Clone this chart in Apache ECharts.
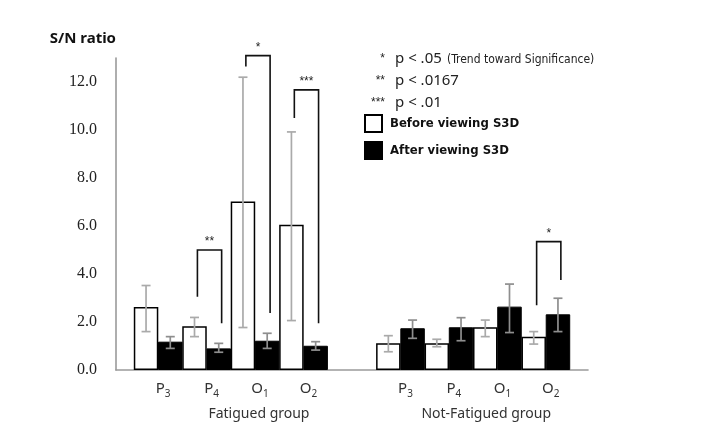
<!DOCTYPE html>
<html><head><meta charset="utf-8">
<script src="https://cdn.jsdelivr.net/npm/echarts@6/dist/echarts.min.js"></script>
<style>html,body{margin:0;padding:0;background:#fff}#c{width:725px;height:448px}</style>
</head><body><div id="c"></div>
<script>
// ---------- data ----------
const electrodes = ['P3', 'P4', 'O1', 'O2'];
const groups = ['Fatigued group', 'Not-Fatigued group'];
const seriesNames = ['Before viewing S3D', 'After viewing S3D'];
// Fatigued group
const fatBefore      = [2.62, 1.82, 7.02, 6.05];
const fatBeforeErrHi = [3.52, 2.19, 12.2, 9.92];
const fatBeforeErrLo = [1.60, 1.39, 1.77, 2.06];
const fatAfter       = [1.18, 0.90, 1.22, 1.01];
const fatAfterErrHi  = [1.39, 1.11, 1.53, 1.18];
const fatAfterErrLo  = [0.90, 0.74, 0.90, 0.83];
// Not-Fatigued group
const nfBefore       = [1.11, 1.11, 1.78, 1.39];
const nfBeforeErrHi  = [1.43, 1.28, 2.08, 1.60];
const nfBeforeErrLo  = [0.76, 0.97, 1.39, 1.08];
const nfAfter        = [1.74, 1.78, 2.64, 2.32];
const nfAfterErrHi   = [2.08, 2.18, 3.58, 2.99];
const nfAfterErrLo   = [1.32, 1.22, 1.56, 1.60];
const yTickLabels = ['0.0', '2.0', '4.0', '6.0', '8.0', '10.0', '12.0'];
// significance brackets
const sigGroup     = [0, 0, 0, 1];
const sigElectrode = [1, 2, 3, 3];
const sigLeftLow   = [3.05, 12.65, 10.5, 2.7];
const sigTop       = [5.0, 13.1, 11.67, 5.35];
const sigRightLow  = [1.95, 2.37, 1.95, 3.75];
const sigMarks     = ['**', '*', '***', '*'];
// p-value notes
const pNoteStars = ['*', '**', '***'];
const pNoteTexts = ['p < .05', 'p < .0167', 'p < .01'];
const pNoteExtra = ['(Trend toward Significance)', '', ''];

// ---------- build ----------
const GROUP_STEP = 5;
const HALF = 0.25;
const GROUP_LABEL_SHIFT = [0.58, 0.27];
function pos(g, e) { return g * GROUP_STEP + e; }

const beforeVals = [fatBefore, nfBefore];
const afterVals = [fatAfter, nfAfter];
const beforeHi = [fatBeforeErrHi, nfBeforeErrHi], beforeLo = [fatBeforeErrLo, nfBeforeErrLo];
const afterHi = [fatAfterErrHi, nfAfterErrHi], afterLo = [fatAfterErrLo, nfAfterErrLo];

const beforeData = [], afterData = [], errData = [], catValues = [];
for (let g = 0; g < groups.length; g++) {
  for (let e = 0; e < electrodes.length; e++) {
    const p = pos(g, e);
    catValues.push(p);
    beforeData.push([p - HALF, beforeVals[g][e]]);
    afterData.push([p + HALF, afterVals[g][e]]);
    errData.push([p - HALF, beforeLo[g][e], beforeHi[g][e], 0]);
    errData.push([p + HALF, afterLo[g][e], afterHi[g][e], 1]);
  }
}
const catLabelOf = {};
for (let g = 0; g < groups.length; g++) for (let e = 0; e < electrodes.length; e++) {
  const s = electrodes[e];
  catLabelOf[pos(g, e)] = '{m|' + s[0] + '}{s|' + s.slice(1) + '}';
}
const groupCenters = groups.map((_, g) => pos(g, 0) + (electrodes.length - 1) / 2 + GROUP_LABEL_SHIFT[g]);
const groupLabelOf = {};
groupCenters.forEach((c, g) => groupLabelOf[c] = groups[g]);

const sigData = sigGroup.map((g, i) => {
  const p = pos(g, sigElectrode[i]);
  return [p - 0.19, p + 0.31, sigLeftLow[i], sigTop[i], sigRightLow[i]];
});

function renderErr(params, api) {
  const x = api.value(0);
  const lo = api.coord([x, api.value(1)]);
  const hi = api.coord([x, api.value(2)]);
  const w = 4.5;
  const style = { stroke: api.value(3) ? '#8e8e8e' : '#aaaaaa', lineWidth: 1.7 };
  return {
    type: 'group', children: [
      { type: 'line', shape: { x1: lo[0], y1: hi[1], x2: lo[0], y2: lo[1] }, style },
      { type: 'line', shape: { x1: lo[0] - w, y1: hi[1], x2: lo[0] + w, y2: hi[1] }, style },
      { type: 'line', shape: { x1: lo[0] - w, y1: lo[1], x2: lo[0] + w, y2: lo[1] }, style }
    ]
  };
}
function renderSig(params, api) {
  const xl = api.value(0), xr = api.value(1);
  const a = api.coord([xl, api.value(2)]);
  const t1 = api.coord([xl, api.value(3)]);
  const t2 = api.coord([xr, api.value(3)]);
  const b = api.coord([xr, api.value(4)]);
  return {
    type: 'group', children: [
      { type: 'polyline', shape: { points: [a, t1, t2, b] },
        style: { stroke: '#111', lineWidth: 1.6, fill: null } },
      { type: 'text', style: { text: sigMarks[params.dataIndex], x: (t1[0] + t2[0]) / 2, y: t1[1] - 2,
        align: 'center', verticalAlign: 'bottom', fill: '#222', font: '12px "Liberation Sans"' } }
    ]
  };
}

const graphics = [];
pNoteStars.forEach((s, i) => {
  const y = 59 + i * 22;
  graphics.push({ type: 'text', x: 385, y: y, style: { text: s, align: 'right', verticalAlign: 'middle',
    fill: '#222', font: '12px "Liberation Sans"' } });
  graphics.push({ type: 'text', x: 395, y: y, style: { text: pNoteTexts[i], align: 'left', verticalAlign: 'middle',
    fill: '#222', font: '15px "Noto Sans"' } });
  if (pNoteExtra[i]) graphics.push({ type: 'text', x: 447, y: y + 1, style: { text: pNoteExtra[i], align: 'left',
    verticalAlign: 'middle', fill: '#222', font: '12px "DejaVu Sans Condensed"' } });
});

const chart = echarts.init(document.getElementById('c'), null, { renderer: 'canvas' });
chart.setOption({
  animation: false,
  backgroundColor: '#fff',
  grid: { left: 116, right: 137, top: 58, bottom: 78, containLabel: false },
  legend: {
    data: seriesNames, orient: 'vertical', left: 364, top: 114, padding: 0,
    itemWidth: 17, itemHeight: 17, itemGap: 8, icon: 'rect',
    textStyle: { fontFamily: '"DejaVu Sans Condensed"', fontWeight: 'bold',
      fontSize: 13, color: '#111', padding: [0, 0, 0, 3] }
  },
  xAxis: [{
    type: 'value', min: -0.87, max: 8.87,
    axisLine: { show: true, onZero: false, lineStyle: { color: '#9a9a9a', width: 1.6 } },
    axisTick: { show: false }, splitLine: { show: false },
    axisLabel: {
      customValues: catValues, margin: 11, padding: [0, 0, 0, 10],
      formatter: v => catLabelOf[v] || '',
      rich: {
        m: { fontFamily: '"Noto Sans"', fontSize: 15, color: '#333', verticalAlign: 'top', lineHeight: 18 },
        s: { fontFamily: '"Noto Sans"', fontSize: 10, color: '#333', verticalAlign: 'top', padding: [8, 0, 0, 0], lineHeight: 18 }
      }
    }
  }, {
    type: 'value', min: -0.87, max: 8.87, position: 'bottom',
    axisLine: { show: false, onZero: false }, axisTick: { show: false }, splitLine: { show: false },
    axisLabel: { customValues: groupCenters, margin: 37, formatter: v => groupLabelOf[v] || '',
      fontFamily: '"Noto Sans"', fontSize: 14, color: '#333' }
  }],
  yAxis: {
    type: 'value', min: 0, max: 13, interval: 2,
    name: 'S/N ratio', nameLocation: 'end', nameGap: 12,
    nameTextStyle: { fontFamily: '"Noto Sans"', fontWeight: 'bold', fontSize: 15, color: '#111',
      align: 'right', padding: [0, 0, 0, 0] },
    axisLine: { show: true, onZero: false, lineStyle: { color: '#9a9a9a', width: 1.6 } },
    axisTick: { show: false }, splitLine: { show: false },
    axisLabel: {
      formatter: v => { const i = yTickLabels.indexOf((v).toFixed(1)); return i >= 0 ? yTickLabels[i] : ''; },
      fontFamily: '"Liberation Serif"', fontSize: 16, color: '#222', margin: 19
    }
  },
  series: [
    { name: seriesNames[0], type: 'bar', xAxisIndex: 0, data: beforeData, barWidth: 24.5, barGap: '-100%',
      itemStyle: { color: '#fff', borderColor: '#000', borderWidth: 1.5 }, z: 2 },
    { name: seriesNames[1], type: 'bar', xAxisIndex: 0, data: afterData, barWidth: 24.5, barGap: '-100%',
      itemStyle: { color: '#000', borderColor: '#000', borderWidth: 1 }, z: 2 },
    { type: 'custom', renderItem: renderErr, data: errData, encode: { x: 0, y: [1, 2] }, z: 5, silent: true },
    { type: 'custom', renderItem: renderSig, data: sigData, encode: { x: [0, 1], y: [2, 3, 4] }, z: 5, silent: true, clip: false }
  ],
  graphic: graphics
});
</script></body></html>
